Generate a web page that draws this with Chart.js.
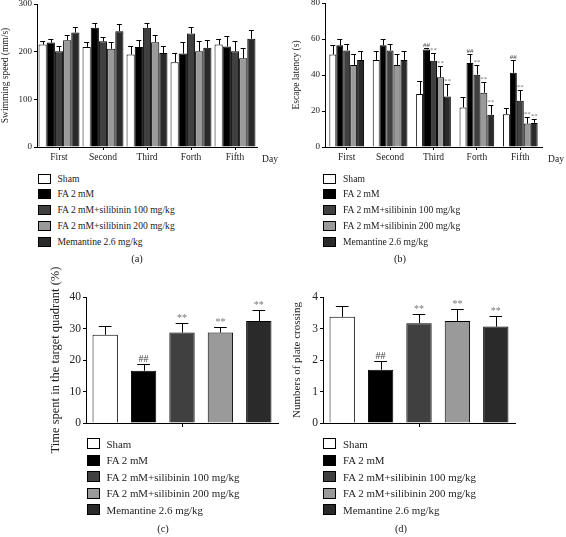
<!DOCTYPE html>
<html>
<head>
<meta charset="utf-8">
<script src="https://cdn.jsdelivr.net/npm/chart.js@4/dist/chart.umd.min.js"></script>
<style>
  html, body { margin:0; padding:0; background:#fff; }
  body { width:566px; height:537px; position:relative; overflow:hidden; font-family:"Liberation Serif", "Times New Roman", serif; color:#222; }
  canvas { position:absolute; }
  .lg { position:absolute; white-space:nowrap; }
  .box { position:absolute; left:0; width:11px; border:1px solid #000; }
  .txt { position:absolute; white-space:nowrap; }
  .cap { position:absolute; transform:translateX(-50%); white-space:nowrap; }
  .day { position:absolute; font-size:9.5px; transform:translate(-50%,-50%); }
</style>
</head>
<body>
<canvas id="ca" width="283" height="176" style="left:0;top:-6px"></canvas>
<canvas id="cb" width="275" height="176" style="left:291px;top:-6px"></canvas>
<canvas id="cc" width="240" height="210" style="left:48px;top:255px"></canvas>
<canvas id="cd" width="240" height="210" style="left:291px;top:255px"></canvas>
<div class="day" style="left:270px;top:159px">Day</div>
<div class="day" style="left:556px;top:159px">Day</div>
<div id="lga" class="lg"></div>
<div id="lgb" class="lg"></div>
<div id="lgc" class="lg"></div>
<div id="lgd" class="lg"></div>
<div class="cap" style="left:137px;top:253px;font-size:10.5px">(a)</div>
<div class="cap" style="left:400px;top:253px;font-size:10.5px">(b)</div>
<div class="cap" style="left:163px;top:523px;font-size:10.5px">(c)</div>
<div class="cap" style="left:401px;top:523px;font-size:10.5px">(d)</div>
<script>
// ---------- DATA ----------
const days = ['First', 'Second', 'Third', 'Forth', 'Fifth'];
const groups = ['Sham', 'FA 2 mM', 'FA 2 mM+silibinin 100 mg/kg', 'FA 2 mM+silibinin 200 mg/kg', 'Memantine 2.6 mg/kg'];

// (a) Swimming speed (mm/s)
const speedSham = [215, 210, 194, 178, 215];
const speedFA   = [219, 250, 210, 196, 211];
const speedS100 = [201, 222, 250, 238, 201];
const speedS200 = [224, 206, 220, 201, 186];
const speedMem  = [240, 243, 197, 208, 227];
const speedErrSham = [8, 10, 17, 20, 12];
const speedErrFA   = [8, 11, 15, 24, 21];
const speedErrS100 = [10, 9, 11, 14, 22];
const speedErrS200 = [12, 14, 16, 22, 21];
const speedErrMem  = [12, 14, 14, 16, 19];
const speedTicks = [0, 100, 200, 300];

// (b) Escape latency (s)
const latSham = [51.4, 48.4, 29.4, 22.0, 18.2];
const latFA   = [56.5, 56.5, 54.2, 46.7, 41.2];
const latS100 = [53.6, 53.6, 47.9, 40.2, 25.7];
const latS200 = [45.6, 45.6, 38.7, 30.2, 13.0];
const latMem  = [48.4, 48.4, 28.1, 17.9, 13.4];
const latErrSham = [5.2, 5.2, 7.5, 5.6, 3.4];
const latErrFA   = [3.5, 3.5, 1.0, 5.0, 7.0];
const latErrS100 = [3.8, 3.8, 4.4, 5.6, 6.0];
const latErrS200 = [6.3, 6.3, 6.2, 6.0, 3.6];
const latErrMem  = [5.0, 5.0, 7.0, 5.2, 2.0];
const latSigFA   = ['', '', '##', '##', '##'];
const latSigDrug = ['', '', '**', '**', '**'];
const latTicks = [0, 20, 40, 60, 80];

// (c) Time spent in the target quadrant (%)
const quadTime = [28.0, 16.6, 28.7, 28.7, 32.4];
const quadErr  = [2.7, 2.2, 2.9, 1.9, 3.6];
const quadTicks = [0, 10, 20, 30, 40];

// (d) Numbers of plate crossing
const crossNum = [3.37, 1.69, 3.17, 3.24, 3.06];
const crossErr = [0.33, 0.28, 0.30, 0.39, 0.34];
const crossTicks = [0, 1, 2, 3, 4];

const groupSig = ['', '##', '**', '**', '**'];

// ---------- STYLE ----------
const fills = ['#ffffff', '#000000', '#404040', '#9a9a9a', '#2a2a2a'];
const SERIF = '"Liberation Serif", "Times New Roman", serif';
const TXT = '#222';

const errSig = {
  id: 'errSig',
  afterDatasetsDraw(chart, args, opts) {
    const ctx = chart.ctx, y = chart.scales.y;
    chart.data.datasets.forEach((ds, di) => {
      const meta = chart.getDatasetMeta(di);
      meta.data.forEach((bar, j) => {
        const v = ds.data[j], e = opts.errors[di][j];
        const yt = Math.round(y.getPixelForValue(v + e)) + 0.5;
        const cx = Math.round(bar.x) + 0.5;
        const cw = Math.max(opts.minCap, bar.width * opts.cap);
        ctx.save();
        ctx.strokeStyle = '#000'; ctx.lineWidth = 1;
        ctx.beginPath();
        ctx.moveTo(cx, bar.y); ctx.lineTo(cx, yt);
        ctx.moveTo(bar.x - cw / 2, yt); ctx.lineTo(bar.x + cw / 2, yt);
        ctx.stroke();
        const s = opts.sigs && opts.sigs[di] && opts.sigs[di][j];
        if (s) {
          ctx.fillStyle = s[0] === '#' ? opts.hashColor : opts.starColor;
          ctx.font = opts.font;
          ctx.textAlign = 'center'; ctx.textBaseline = 'bottom';
          ctx.fillText(s, bar.x, yt - opts.gap);
        }
        ctx.restore();
      });
    });
  }
};

function yAxis(ticks, title, w, tickFont, titleFont) {
  return {
    min: ticks[0], max: ticks[ticks.length - 1],
    afterBuildTicks: s => { s.ticks = ticks.map(v => ({ value: v })); },
    afterFit: s => { s.width = w; },
    border: { display: true, color: '#000', width: 1 },
    grid: { display: true, drawOnChartArea: false, drawTicks: true, tickLength: 3, color: '#000' },
    ticks: { padding: 2, color: TXT, font: { family: SERIF, size: tickFont } },
    title: { display: true, text: title, color: TXT, padding: 0, font: { family: SERIF, size: titleFont } }
  };
}

function groupedChart(id, vals, errs, sigs, ticks, title, yw, xh, pad, catPct, sigFont) {
  return new Chart(document.getElementById(id), {
    type: 'bar',
    data: {
      labels: days,
      datasets: groups.map((g, i) => ({
        label: g, data: vals[i], backgroundColor: fills[i], borderColor: '#000', borderWidth: 1,
        categoryPercentage: catPct, barPercentage: 1
      }))
    },
    options: {
      responsive: false, animation: false, devicePixelRatio: 1,
      layout: { padding: pad },
      plugins: {
        legend: { display: false }, tooltip: { enabled: false },
        errSig: { errors: errs, sigs: sigs, cap: 0.6, minCap: 5, gap: 0, font: sigFont, hashColor: '#444', starColor: '#777' }
      },
      scales: {
        x: {
          afterFit: s => { s.height = xh; },
          border: { display: true, color: '#000', width: 1 },
          grid: { display: true, offset: false, drawOnChartArea: false, tickLength: 3, color: '#000' },
          ticks: { padding: 2, color: TXT, maxRotation: 0, autoSkip: false, font: { family: SERIF, size: 9.5 } }
        },
        y: yAxis(ticks, title, yw, 9, 9.5)
      }
    },
    plugins: [errSig]
  });
}

function singleChart(id, vals, errs, ticks, title, yw, xh, pad, titleFont) {
  return new Chart(document.getElementById(id), {
    type: 'bar',
    data: {
      labels: groups,
      datasets: [{ data: vals, backgroundColor: fills, borderColor: '#000', borderWidth: 1,
        categoryPercentage: 1, barPercentage: 0.66 }]
    },
    options: {
      responsive: false, animation: false, devicePixelRatio: 1,
      layout: { padding: pad },
      plugins: {
        legend: { display: false }, tooltip: { enabled: false },
        errSig: { errors: [errs], sigs: [groupSig], cap: 0.5, minCap: 5, gap: 0, font: '10px ' + SERIF, hashColor: '#444', starColor: '#777' }
      },
      scales: {
        x: {
          afterFit: s => { s.height = xh; },
          border: { display: true, color: '#000', width: 1 },
          grid: { display: true, offset: false, drawOnChartArea: false, tickLength: 4,
                  color: c => c.index === 2 ? '#000' : 'rgba(0,0,0,0)' },
          ticks: { display: false }
        },
        y: yAxis(ticks, title, yw, 11.5, titleFont)
      }
    },
    plugins: [errSig]
  });
}

groupedChart('ca',
  [speedSham, speedFA, speedS100, speedS200, speedMem],
  [speedErrSham, speedErrFA, speedErrS100, speedErrS200, speedErrMem],
  null, speedTicks, 'Swimming speed (mm/s)', 37, 23, { top: 10, right: 26, left: 0, bottom: 0 }, 0.93, '7px ' + SERIF);

groupedChart('cb',
  [latSham, latFA, latS100, latS200, latMem],
  [latErrSham, latErrFA, latErrS100, latErrS200, latErrMem],
  [null, latSigFA, latSigDrug, latSigDrug, latSigDrug],
  latTicks, 'Escape latency (s)', 34, 23, { top: 9, right: 24, left: 0, bottom: 0 }, 0.8, '7px ' + SERIF);

singleChart('cc', quadTime, quadErr, quadTicks, 'Time spent in the target quadrant (%)', 38, 42, { top: 42, right: 10, left: 0, bottom: 0 }, 12.5);
singleChart('cd', crossNum, crossErr, crossTicks, 'Numbers of plate crossing', 32, 42, { top: 42, right: 16, left: 0, bottom: 0 }, 11);

// ---------- LEGENDS (HTML) ----------
function legend(id, left, top, textLeft, step, boxH, fontSize) {
  const el = document.getElementById(id);
  el.style.left = left + 'px'; el.style.top = top + 'px';
  groups.forEach((g, i) => {
    const cy = i * step;
    const b = document.createElement('div');
    b.className = 'box';
    b.style.top = (cy - boxH / 2 - 1) + 'px';
    b.style.height = boxH + 'px';
    b.style.background = fills[i];
    el.appendChild(b);
    const t = document.createElement('div');
    t.className = 'txt';
    t.textContent = g;
    t.style.left = textLeft + 'px';
    t.style.fontSize = fontSize + 'px';
    t.style.lineHeight = '12px';
    t.style.top = (cy - 6) + 'px';
    el.appendChild(t);
  });
}
legend('lga', 38, 178.7, 19.5, 15.75, 8, 9.6);
legend('lgb', 323, 178.7, 20, 15.75, 8, 9.6);
legend('lgc', 87, 443.5, 19.5, 16.6, 9, 10.9);
legend('lgd', 323, 443.5, 20, 16.6, 9, 10.9);
</script>
</body>
</html>
